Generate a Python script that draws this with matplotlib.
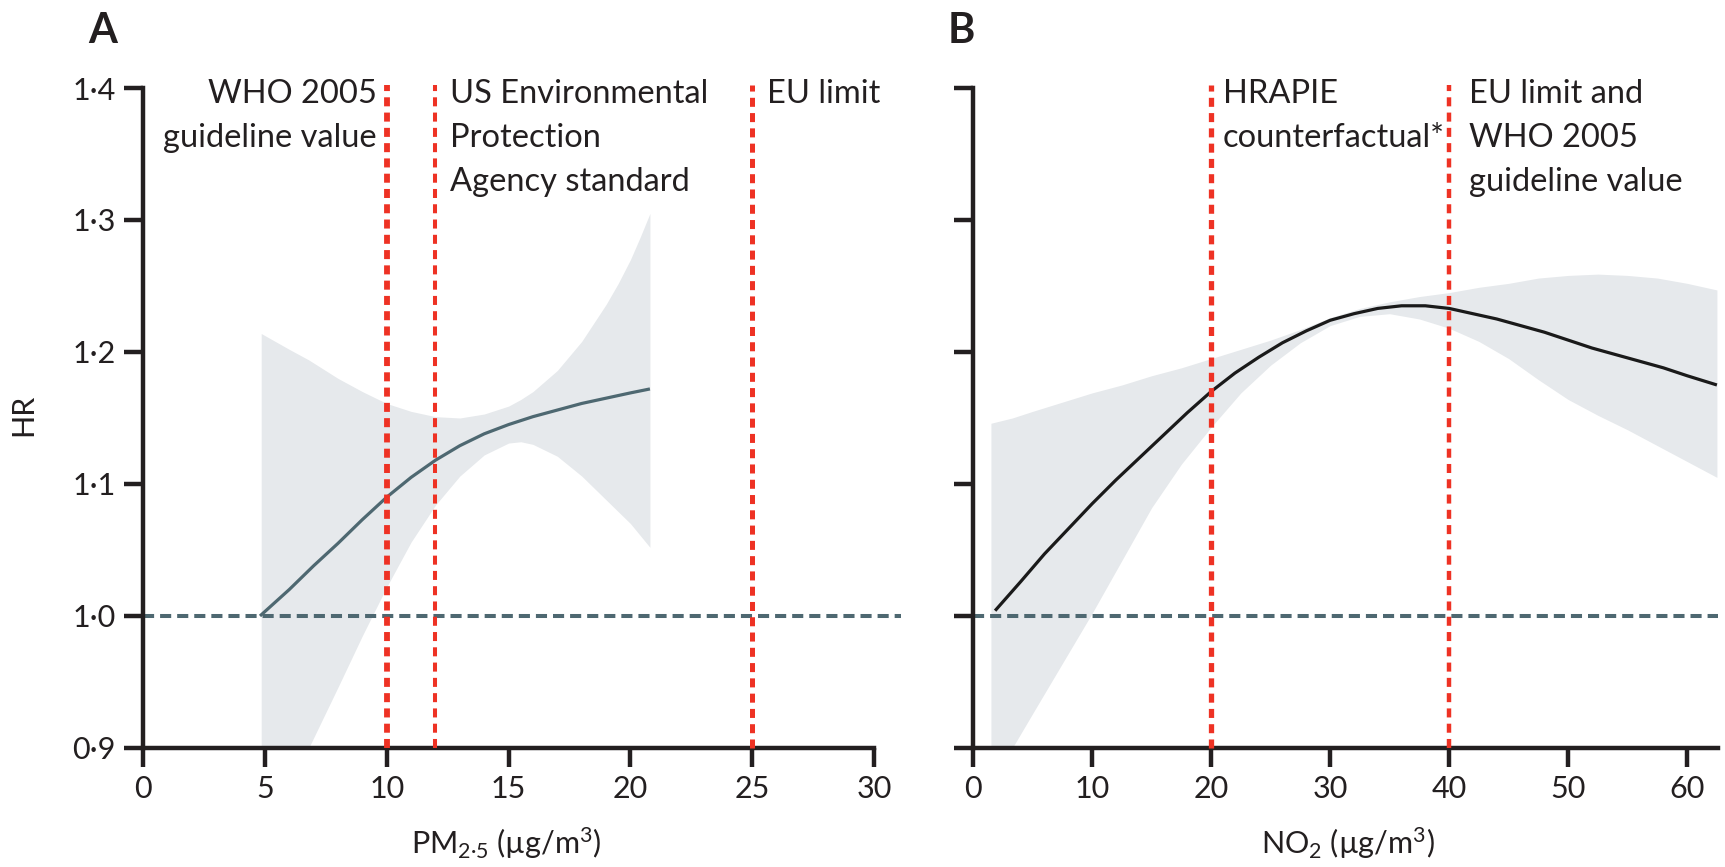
import numpy as np
import matplotlib
matplotlib.use("Agg")
import matplotlib.pyplot as plt
from matplotlib.ticker import FixedLocator, FixedFormatter

FONT = "Lato"
plt.rcParams["font.family"] = [FONT, "DejaVu Sans"]
plt.rcParams["mathtext.fontset"] = "custom"
plt.rcParams["mathtext.rm"] = FONT
plt.rcParams["mathtext.it"] = FONT + ":italic"
plt.rcParams["mathtext.bf"] = FONT + ":bold"
plt.rcParams["lines.scale_dashes"] = False

# --- PM2.5 panel ---
pm_x = [4.8, 6, 7, 8, 9, 10, 11, 12, 13, 14, 15, 16, 17, 18, 19, 20, 20.8]
pm_hr = [1.0, 1.020, 1.038, 1.055, 1.073, 1.090, 1.105, 1.118, 1.129, 1.138,
         1.145, 1.151, 1.156, 1.161, 1.165, 1.169, 1.172]
pm_band_x = [4.85, 6, 6.8, 8, 9, 10, 11, 12, 13, 14, 15, 15.5, 16, 17, 18, 19,
             19.5, 20, 20.4, 20.8]
pm_upper = [1.214, 1.202, 1.194, 1.180, 1.170, 1.161, 1.155, 1.151, 1.150, 1.153,
            1.159, 1.164, 1.170, 1.186, 1.208, 1.236, 1.252, 1.270, 1.287, 1.305]
pm_lower = [0.85, 0.88, 0.9, 0.946, 0.985, 1.022, 1.056, 1.084, 1.106, 1.122,
            1.131, 1.132, 1.130, 1.121, 1.106, 1.088, 1.079, 1.070, 1.061, 1.052]
pm_limits = [10, 12, 25]
pm_ticks = [0, 5, 10, 15, 20, 25, 30]

# --- NO2 panel ---
no2_x = [1.85, 4, 6, 8, 10, 12, 14, 16, 18, 20, 22, 24, 26, 28, 30, 32, 34, 36,
         38, 40, 42, 44, 46, 48, 50, 52, 54, 56, 58, 60, 62.5]
no2_hr = [1.004, 1.026, 1.047, 1.066, 1.085, 1.103, 1.120, 1.137, 1.154, 1.170,
          1.184, 1.196, 1.207, 1.216, 1.224, 1.229, 1.233, 1.235, 1.235, 1.233,
          1.229, 1.225, 1.220, 1.215, 1.209, 1.203, 1.198, 1.193, 1.188, 1.182,
          1.175]
no2_band_x = [1.5, 3.3, 5, 7.5, 10, 12.5, 15, 17.5, 20, 22.5, 25, 27.5, 30, 32.5,
              35, 37.5, 40, 42.5, 45, 47.5, 50, 52.5, 55, 57.5, 60, 62.5]
no2_upper = [1.146, 1.150, 1.155, 1.162, 1.169, 1.175, 1.182, 1.188, 1.195, 1.202,
             1.209, 1.217, 1.226, 1.233, 1.238, 1.242, 1.245, 1.249, 1.252, 1.256,
             1.258, 1.259, 1.258, 1.256, 1.252, 1.247]
no2_lower = [0.88, 0.9, 0.926, 0.964, 1.002, 1.042, 1.082, 1.115, 1.143, 1.169,
             1.190, 1.207, 1.220, 1.227, 1.229, 1.225, 1.218, 1.208, 1.195, 1.179,
             1.164, 1.152, 1.141, 1.129, 1.117, 1.105]
no2_limits = [20, 40]
no2_ticks = [0, 10, 20, 30, 40, 50, 60]

hr_ticks = [0.9, 1.0, 1.1, 1.2, 1.3, 1.4]
hr_labels = ["0·9", "1·0", "1·1", "1·2", "1·3", "1·4"]

pm_notes = [
    (9.6, "right", ["WHO 2005", "guideline value"]),
    (12.6, "left", ["US Environmental", "Protection", "Agency standard"]),
    (25.6, "left", ["EU limit"]),
]
no2_notes = [
    (21.0, "left", ["HRAPIE", "counterfactual*"]),
    (41.7, "left", ["EU limit and", "WHO 2005", "guideline value"]),
]

INK = "#231F20"
RED = "#EE3224"
SLATE = "#4E6871"
BAND = "#E6E9EC"

fig = plt.figure(figsize=(17.25, 8.67), dpi=100)
axA = fig.add_axes([0.0829, 0.1373, 0.4394, 0.7612])
axB = fig.add_axes([0.5641, 0.1373, 0.4319, 0.7612])


def style_axes(ax, xticks, xmax, xbound, show_labels):
    ax.set_ylim(0.9, 1.4)
    ax.set_xlim(0, xmax)
    for s in ["top", "right"]:
        ax.spines[s].set_visible(False)
    for s in ["left", "bottom"]:
        ax.spines[s].set_linewidth(3.2)
        ax.spines[s].set_color(INK)
    ax.spines["bottom"].set_bounds(0, xbound)
    ax.xaxis.set_major_locator(FixedLocator(xticks))
    ax.yaxis.set_major_locator(FixedLocator(hr_ticks))
    if show_labels:
        ax.yaxis.set_major_formatter(FixedFormatter(hr_labels))
    else:
        ax.set_yticklabels([])
    ax.tick_params(direction="out", length=13.5, width=3.2, color=INK,
                   labelsize=22, labelcolor=INK, pad=6)


def draw_notes(ax, notes):
    for x, ha, lines in notes:
        for i, line in enumerate(lines):
            ax.annotate(line, xy=(x, 1.389), xytext=(0, -31.7 * i),
                        textcoords="offset points", ha=ha, va="baseline",
                        fontsize=23.5, color=INK, annotation_clip=False)


# Panel A: PM2.5
style_axes(axA, pm_ticks, 31.1, 30, True)
axA.fill_between(pm_band_x, pm_lower, pm_upper, color=BAND, lw=0, zorder=1)
axA.axhline(1.0, color=SLATE, lw=2.9, linestyle=(0, (8, 4.3)), zorder=2)
axA.plot(pm_x, pm_hr, color=SLATE, lw=2.3, zorder=3, solid_capstyle="butt")
for x, lw in zip(pm_limits, [4.2, 2.9, 3.6]):
    axA.vlines(x, 0.9, 1.402, color=RED, lw=lw, linestyle=(0, (6.5, 4.5)),
               zorder=4, clip_on=False)
draw_notes(axA, pm_notes)
axA.set_ylabel("HR", fontsize=22, color=INK)
axA.yaxis.set_label_coords(-0.139, 0.504)
axA.set_xlabel(r"PM$_{\mathrm{2·5}}$ (µg/m$^{\mathrm{3}}$)", fontsize=22, color=INK)
axA.xaxis.set_label_coords(0.48, -0.118)

# Panel B: NO2
style_axes(axB, no2_ticks, 62.6, 62.6, False)
axB.fill_between(no2_band_x, no2_lower, no2_upper, color=BAND, lw=0, zorder=1)
axB.axhline(1.0, color=SLATE, lw=2.9, linestyle=(0, (8, 4.3)), zorder=2)
axB.plot(no2_x, no2_hr, color="#1A1A1A", lw=2.3, zorder=3, solid_capstyle="butt")
for x, lw in zip(no2_limits, [3.8, 3.2]):
    axB.vlines(x, 0.9, 1.402, color=RED, lw=lw, linestyle=(0, (6.5, 4.5)),
               zorder=4, clip_on=False)
draw_notes(axB, no2_notes)
axB.set_xlabel(r"NO$_{\mathrm{2}}$ (µg/m$^{\mathrm{3}}$)", fontsize=22, color=INK)
axB.xaxis.set_label_coords(0.503, -0.118)

fig.text(0.051, 0.950, "A", fontsize=30, fontweight="bold", color=INK, va="baseline")
fig.text(0.5496, 0.950, "B", fontsize=30, fontweight="bold", color=INK, va="baseline")

fig.savefig("out.png", dpi=100, facecolor="white")
